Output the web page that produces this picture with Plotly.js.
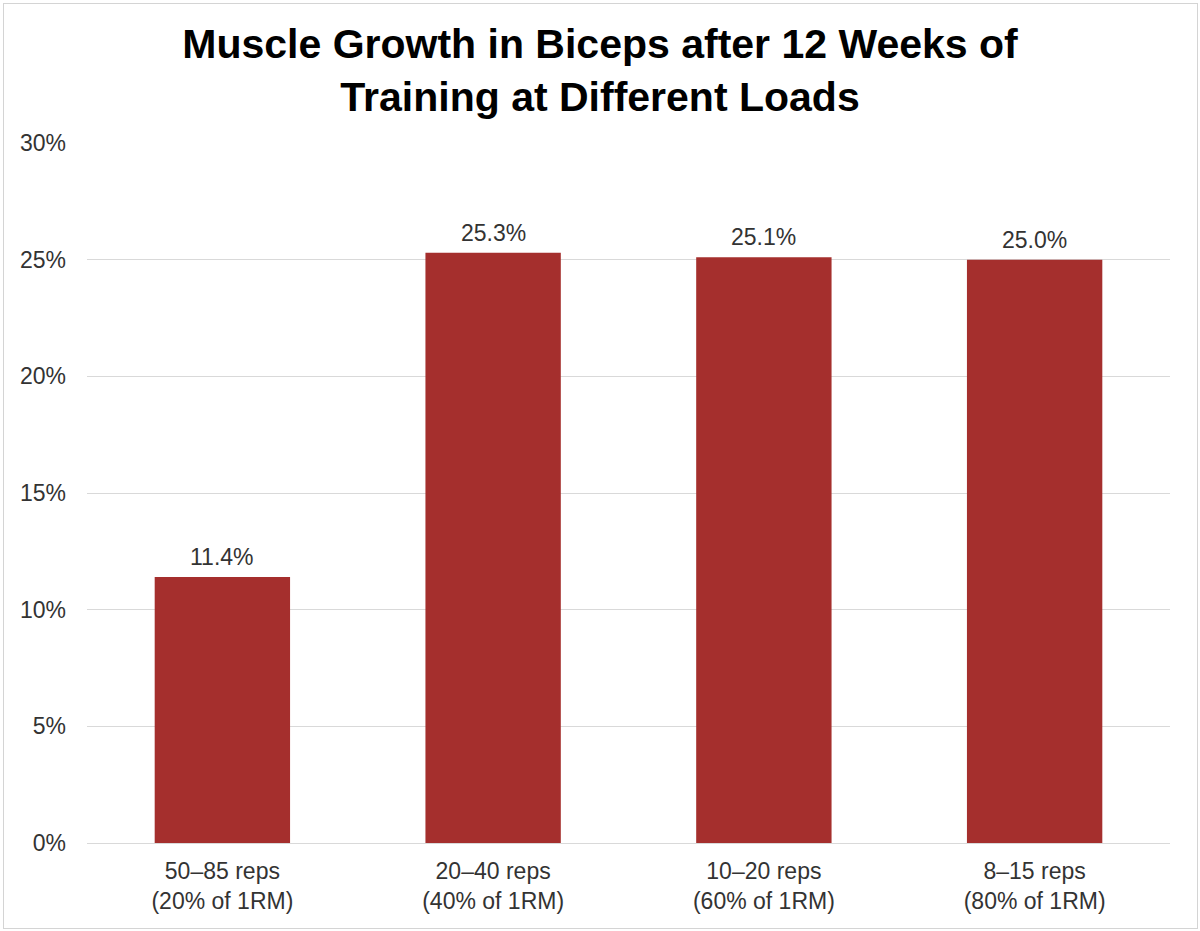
<!DOCTYPE html>
<html>
<head>
<meta charset="utf-8">
<script src="https://cdn.plot.ly/plotly-3.0.1.min.js"></script>
<style>
  body { margin: 0; background: #fff; }
  #grafico { width: 1200px; height: 931px; }
  #borde { position: absolute; left: 3px; top: 3px; width: 1193px; height: 924px;
           border: 1px solid #d4d4d4; pointer-events: none; }
</style>
</head>
<body>
<div id="grafico"></div>
<div id="borde"></div>
<script>
// categorias y valores del grafico
const categorias = [
  "50–85 reps<br>(20% of 1RM)",
  "20–40 reps<br>(40% of 1RM)",
  "10–20 reps<br>(60% of 1RM)",
  "8–15 reps<br>(80% of 1RM)"
];
const crecimiento = [11.4, 25.3, 25.1, 25.0];
const ticksY = [0, 5, 10, 15, 20, 25, 30];

const fuente = "Liberation Sans, Arial, sans-serif";

// etiquetas encima de cada barra
const etiquetas = categorias.map(function (c, i) {
  return {
    x: c,
    y: crecimiento[i],
    xref: "x",
    yref: "y",
    text: crecimiento[i].toFixed(1) + "%",
    showarrow: false,
    yanchor: "bottom",
    yshift: 5,
    font: { family: fuente, size: 23, color: "#333333" }
  };
});

Plotly.newPlot(
  "grafico",
  [{
    x: categorias,
    y: crecimiento,
    type: "bar",
    marker: { color: "#a52f2d" },
    hoverinfo: "skip"
  }],
  {
    width: 1200,
    height: 931,
    margin: { l: 87, r: 30, t: 143, b: 88 },
    paper_bgcolor: "#ffffff",
    plot_bgcolor: "#ffffff",
    font: { family: fuente, color: "#333333", size: 23 },
    title: {
      text: "<b>Muscle Growth in Biceps after 12 Weeks of<br>Training at Different Loads</b>",
      font: { size: 41, color: "#000000" },
      x: 0.5,
      xanchor: "center",
      y: 1 - 58 / 931,
      yanchor: "middle"
    },
    annotations: etiquetas,
    bargap: 0.5,
    showlegend: false,
    xaxis: {
      showline: false,
      ticks: "",
      ticklabelstandoff: 12,
      tickfont: { size: 23, color: "#333333" }
    },
    yaxis: {
      range: [0, 30],
      tickvals: ticksY,
      ticktext: ticksY.map(function (v) { return v + "%"; }),
      showgrid: true,
      gridcolor: "#d9d9d9",
      gridwidth: 1,
      zeroline: true,
      zerolinecolor: "#d9d9d9",
      zerolinewidth: 1,
      ticks: "",
      ticklabelstandoff: 20,
      tickfont: { size: 23, color: "#333333" }
    }
  },
  { displayModeBar: false }
);
</script>
</body>
</html>
